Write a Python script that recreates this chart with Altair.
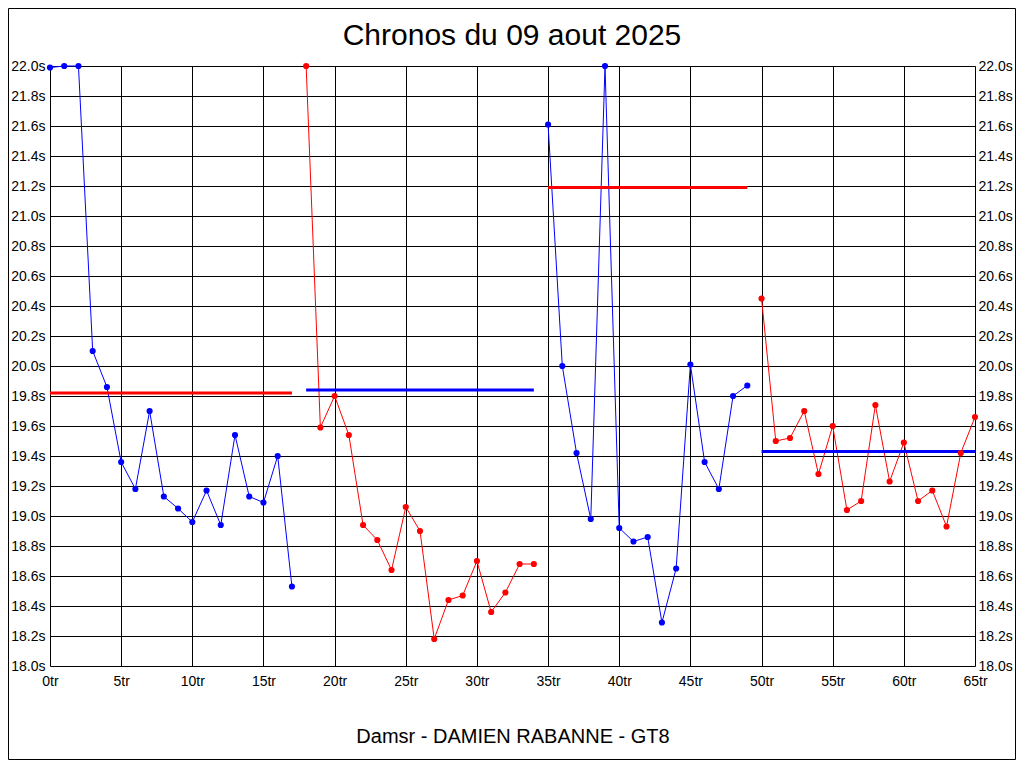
import altair as alt
import pandas as pd

# ---- data ----
seg1_laps = list(range(0, 18))
seg1_times = [21.99, 22.0, 22.0, 20.10, 19.86, 19.36, 19.18, 19.70, 19.13, 19.05,
              18.96, 19.17, 18.94, 19.54, 19.13, 19.09, 19.40, 18.53]
seg2_laps = list(range(18, 35))
seg2_times = [22.0, 19.59, 19.80, 19.54, 18.94, 18.84, 18.64, 19.06, 18.90, 18.18,
              18.44, 18.47, 18.70, 18.36, 18.49, 18.68, 18.68]
seg3_laps = list(range(35, 50))
seg3_times = [21.61, 20.00, 19.42, 18.98, 22.0, 18.92, 18.83, 18.86, 18.29, 18.65,
              20.01, 19.36, 19.18, 19.80, 19.87]
seg4_laps = list(range(50, 66))
seg4_times = [20.45, 19.50, 19.52, 19.70, 19.28, 19.60, 19.04, 19.10, 19.74, 19.23,
              19.49, 19.10, 19.17, 18.93, 19.42, 19.66]
seg_colors = ["#0000ff", "#ff0000", "#0000ff", "#ff0000"]

avg_start = [0, 18, 35, 50]
avg_end = [17, 34, 49, 65]
avg_value = [19.82, 19.84, 21.19, 19.43]
avg_colors = ["#ff0000", "#0000ff", "#ff0000", "#0000ff"]

x_ticks = list(range(0, 66, 5))
y_ticks = [round(18 + 0.2 * i, 1) for i in range(21)]

title_text = "Chronos du 09 aout 2025"
x_title = "Damsr - DAMIEN RABANNE - GT8"

# ---- tables ----
rows = []
for k, (laps, times) in enumerate([(seg1_laps, seg1_times), (seg2_laps, seg2_times),
                                    (seg3_laps, seg3_times), (seg4_laps, seg4_times)]):
    for l, t in zip(laps, times):
        rows.append({"lap": l, "time": t, "seg": f"s{k}", "c": seg_colors[k]})
df = pd.DataFrame(rows)
avg_df = pd.DataFrame({"x": avg_start, "x2": avg_end, "y": avg_value, "c": avg_colors})

FONT = "Liberation Sans"
W, H = 925, 600

x_axis = alt.Axis(values=x_ticks, labelExpr="datum.value + 'tr'", title=x_title,
                  grid=True, gridColor="black", gridWidth=1, gridOpacity=1,
                  ticks=False, domain=False, labelFont=FONT, labelFontSize=14,
                  labelColor="black", labelPadding=8, labelFlush=False, labelOverlap=False,
                  titleFont=FONT, titleFontSize=20, titleFontWeight="normal",
                  titleColor="black", titleY=76, titleBaseline="alphabetic")
x_enc = alt.X("lap:Q", scale=alt.Scale(domain=[0, 65], nice=False, zero=False), axis=x_axis)
x_enc_rule = alt.X("x:Q", scale=alt.Scale(domain=[0, 65], nice=False, zero=False), axis=x_axis)

y_scale = alt.Scale(domain=[18, 22], nice=False, zero=False)
y_left = alt.Axis(values=y_ticks, labelExpr="format(datum.value, '.1f') + 's'", orient="left",
                  grid=True, gridColor="black", gridWidth=1, gridOpacity=1, ticks=False,
                  domain=False, labelFont=FONT, labelFontSize=14, labelColor="black",
                  labelPadding=5, labelOverlap=False, labelFlush=False, title=None)
y_right = alt.Axis(values=y_ticks, labelExpr="format(datum.value, '.1f') + 's'", orient="right",
                   grid=False, ticks=False, domain=False, labelFont=FONT, labelFontSize=14,
                   labelColor="black", labelPadding=3, labelOverlap=False, labelFlush=False,
                   title=None)

lines = alt.Chart(df).mark_line(strokeWidth=1).encode(
    x=x_enc,
    y=alt.Y("time:Q", scale=y_scale, axis=y_left),
    color=alt.Color("c:N", scale=None),
    detail="seg:N",
)
points = alt.Chart(df).mark_circle(size=38, opacity=1).encode(
    x=x_enc,
    y=alt.Y("time:Q", scale=y_scale, axis=y_right),
    color=alt.Color("c:N", scale=None),
)
avgs = alt.Chart(avg_df).mark_rule(strokeWidth=3).encode(
    x=x_enc_rule,
    x2="x2:Q",
    y=alt.Y("y:Q", scale=y_scale, axis=None),
    color=alt.Color("c:N", scale=None),
)
frame = alt.Chart(pd.DataFrame({"a": [0]})).mark_rect(filled=False, stroke="black", strokeWidth=1).encode(
    x=alt.value(-41.5), x2=alt.value(W + 40.5), y=alt.value(-57.5), y2=alt.value(H + 93.5)
)
title = alt.Chart(pd.DataFrame({"t": [title_text]})).mark_text(
    font=FONT, fontSize=30, color="black", align="center", baseline="alphabetic"
).encode(text="t:N", x=alt.value(W / 2 - 0.5), y=alt.value(-21.5))

chart = alt.layer(lines, avgs, points, frame, title).resolve_scale(y="independent").properties(
    width=W, height=H,
    autosize=alt.AutoSizeParams(type="none"),
    padding={"left": 42, "top": 58, "right": 41, "bottom": 94},
).configure_view(stroke="black", strokeWidth=1).configure(background="white")

chart.save("out.html", embed_options={"renderer": "svg", "actions": False})
